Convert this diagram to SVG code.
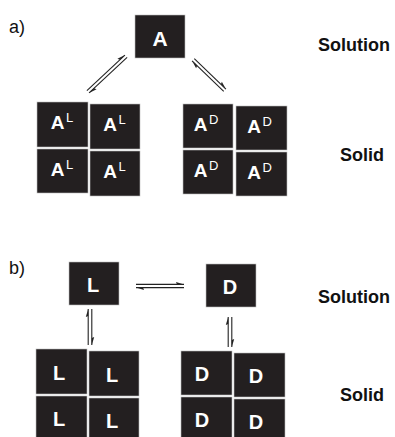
<svg xmlns="http://www.w3.org/2000/svg" xmlns:xlink="http://www.w3.org/1999/xlink" width="395" height="437" viewBox="0 0 395 437">
<style>
.box{fill:#231f20;stroke:#bdbdbd;stroke-width:0.6}
.t{font-family:"Liberation Sans",Arial,sans-serif;font-weight:bold;fill:#fff;text-anchor:middle}
.sup{font-family:"Liberation Sans",Arial,sans-serif;font-weight:normal;fill:#fff;font-size:13px}
.lab{font-family:"Liberation Sans",Arial,sans-serif;font-weight:bold;fill:#111;font-size:18px}
.pl{font-family:"Liberation Sans",Arial,sans-serif;fill:#111;font-size:18px}
.ln{stroke:#222;stroke-width:1.1;fill:none}
.bb{fill:#222}
</style>
<rect width="395" height="437" fill="#fff"/>
<text class="pl" x="9" y="33">a)</text>
<text class="pl" x="9" y="274">b)</text>
<text class="lab" x="318" y="51">Solution</text>
<text class="lab" x="340" y="161">Solid</text>
<text class="lab" x="318" y="303">Solution</text>
<text class="lab" x="340" y="401">Solid</text>

<g id="connectors">
  <g transform="translate(107,74) rotate(-43)">
    <line class="ln" x1="-26" y1="-1.6" x2="26" y2="-1.6"/><polygon class="bb" points="26,-1.6 19,-1.6 18,-4"/>
    <line class="ln" x1="-26" y1="1.6" x2="26" y2="1.6"/><polygon class="bb" points="-26,1.6 -19,1.6 -18,4"/>
  </g>
  <g transform="translate(209,75) rotate(44)">
    <line class="ln" x1="-22" y1="-1.6" x2="22" y2="-1.6"/><polygon class="bb" points="22,-1.6 15,-1.6 14,-4"/>
    <line class="ln" x1="-22" y1="1.6" x2="22" y2="1.6"/><polygon class="bb" points="-22,1.6 -15,1.6 -14,4"/>
  </g>
  <g transform="translate(160,286)">
    <line class="ln" x1="-24" y1="-1.6" x2="24" y2="-1.6"/><polygon class="bb" points="24,-1.6 17,-1.6 16,-4"/>
    <line class="ln" x1="-24" y1="1.6" x2="24" y2="1.6"/><polygon class="bb" points="-24,1.6 -17,1.6 -16,4"/>
  </g>
  <g transform="translate(90,327) rotate(90)">
    <line class="ln" x1="-18" y1="-1.8" x2="18" y2="-1.8"/><polygon class="bb" points="18,-1.8 11,-1.8 10,-4.2"/>
    <line class="ln" x1="-18" y1="1.8" x2="18" y2="1.8"/><polygon class="bb" points="-18,1.8 -11,1.8 -10,4.2"/>
  </g>
  <g transform="translate(230,332) rotate(90)">
    <line class="ln" x1="-15" y1="-1.8" x2="15" y2="-1.8"/><polygon class="bb" points="15,-1.8 8,-1.8 7,-4.2"/>
    <line class="ln" x1="-15" y1="1.8" x2="15" y2="1.8"/><polygon class="bb" points="-15,1.8 -8,1.8 -7,4.2"/>
  </g>
</g>

<g id="nodeA"><rect class="box" x="135" y="15" width="50" height="43"/><text class="t" x="160" y="46" font-size="21">A</text></g>

<g id="AL1"><rect class="box" x="37" y="102" width="51" height="45"/><text class="t" x="57.5" y="129" font-size="19">A</text><text class="sup" x="66" y="122">L</text></g>
<g id="AL2"><rect class="box" x="90" y="104" width="50" height="45"/><text class="t" x="110" y="131" font-size="19">A</text><text class="sup" x="118.5" y="124">L</text></g>
<g id="AL3"><rect class="box" x="37" y="149" width="51" height="44"/><text class="t" x="57.5" y="176" font-size="19">A</text><text class="sup" x="66" y="169">L</text></g>
<g id="AL4"><rect class="box" x="90" y="151" width="50" height="45"/><text class="t" x="110" y="178" font-size="19">A</text><text class="sup" x="118.5" y="171">L</text></g>

<g id="AD1"><rect class="box" x="183" y="104" width="50" height="44"/><text class="t" x="200.5" y="131" font-size="19">A</text><text class="sup" x="209" y="124">D</text></g>
<g id="AD2"><rect class="box" x="236" y="106" width="51" height="44"/><text class="t" x="254" y="133" font-size="19">A</text><text class="sup" x="262.5" y="126">D</text></g>
<g id="AD3"><rect class="box" x="183" y="150" width="50" height="44"/><text class="t" x="200.5" y="177" font-size="19">A</text><text class="sup" x="209" y="170">D</text></g>
<g id="AD4"><rect class="box" x="236" y="152" width="51" height="44"/><text class="t" x="254" y="179" font-size="19">A</text><text class="sup" x="262.5" y="172">D</text></g>

<g id="nodeL"><rect class="box" x="69" y="262" width="50" height="43"/><text class="t" x="93" y="292" font-size="20">L</text></g>
<g id="nodeD"><rect class="box" x="206" y="264" width="50" height="43"/><text class="t" x="230" y="294" font-size="20">D</text></g>

<g id="L1"><rect class="box" x="36" y="349" width="51" height="45"/><text class="t" x="59" y="380" font-size="20">L</text></g>
<g id="L2"><rect class="box" x="89" y="351" width="50" height="45"/><text class="t" x="112" y="382" font-size="20">L</text></g>
<g id="L3"><rect class="box" x="36" y="396" width="51" height="45"/><text class="t" x="59" y="426" font-size="20">L</text></g>
<g id="L4"><rect class="box" x="89" y="398" width="50" height="45"/><text class="t" x="112" y="428" font-size="20">L</text></g>

<g id="D1"><rect class="box" x="181" y="351" width="51" height="44"/><text class="t" x="202" y="381" font-size="20">D</text></g>
<g id="D2"><rect class="box" x="234" y="353" width="51" height="44"/><text class="t" x="256" y="383" font-size="20">D</text></g>
<g id="D3"><rect class="box" x="181" y="397" width="51" height="44"/><text class="t" x="202" y="427" font-size="20">D</text></g>
<g id="D4"><rect class="box" x="234" y="399" width="51" height="44"/><text class="t" x="256" y="429" font-size="20">D</text></g>
</svg>
